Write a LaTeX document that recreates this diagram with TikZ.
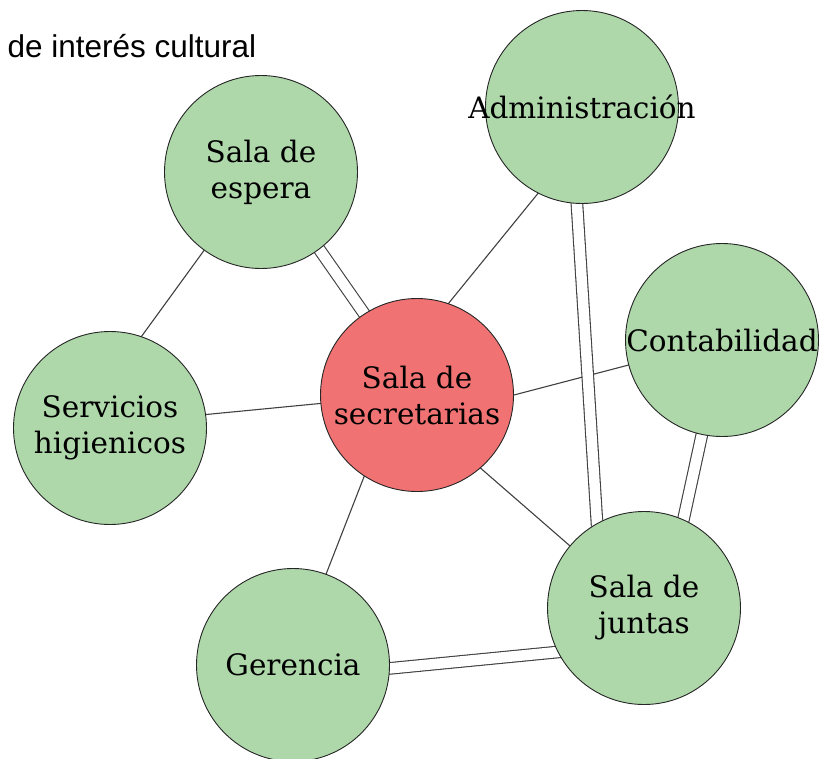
\documentclass[tikz,border=0pt]{standalone}
\usepackage{fontspec}
\setmainfont{DejaVu Serif}
\newfontfamily\headfont{Liberation Sans}
\usetikzlibrary{backgrounds}
\definecolor{roomgreen}{RGB}{174,216,170}
\definecolor{roomred}{RGB}{240,114,114}
\begin{document}
\begin{tikzpicture}[x=1pt,y=-1pt,
  room/.style={circle, draw=black!85, line width=0.9pt, fill=roomgreen,
    minimum size=193pt, inner sep=0pt, align=center,
    font=\fontsize{29.5}{36}\selectfont},
  link/.style={draw=black!75, line width=1.1pt, shorten <=-2pt, shorten >=-2pt},
  dlink/.style={draw=black!75, line width=1.1pt, double=white,
    double distance=10.5pt, shorten <=-3pt, shorten >=-3pt}]
\useasboundingbox (0,0) rectangle (822,758);
\node[anchor=base west, font=\headfont\fontsize{31.5}{36}\selectfont] (title) at (4,57) {de interés cultural};
\node[room] (espera) at (261,172) {Sala de\\espera};
\node[room] (admin) at (582,107) {\makebox[0pt]{Administración}};
\node[room] (conta) at (722,340) {\makebox[0pt]{Contabilidad}};
\node[room] (serv) at (110,428) {Servicios\\higienicos};
\node[room, fill=roomred] (secre) at (417,395) {Sala de\\secretarias};
\node[room] (juntas) at (644,608) {Sala de\\juntas};
\node[room] (geren) at (293,665) {\makebox[0pt]{Gerencia}};
\begin{scope}[on background layer]
\draw[link] (espera.-126) -- (serv.71);
\draw[link] (admin.-117) -- (secre.71);
\draw[link] (serv.8) -- (secre.185);
\draw[link] (secre.0) -- (conta.195);
\draw[link] (secre.-123.5) -- (geren.70);
\draw[link] (secre.-49.6) -- (juntas.140.3);
\draw[dlink] (espera.-53.7) -- (secre.123.5);
\draw[dlink] (admin.-93.5) -- (juntas.119.9);
\draw[dlink] (conta.-102) -- (juntas.66.5);
\draw[dlink] (geren.-2.4) -- (juntas.-153.6);
\end{scope}
\end{tikzpicture}
\end{document}
